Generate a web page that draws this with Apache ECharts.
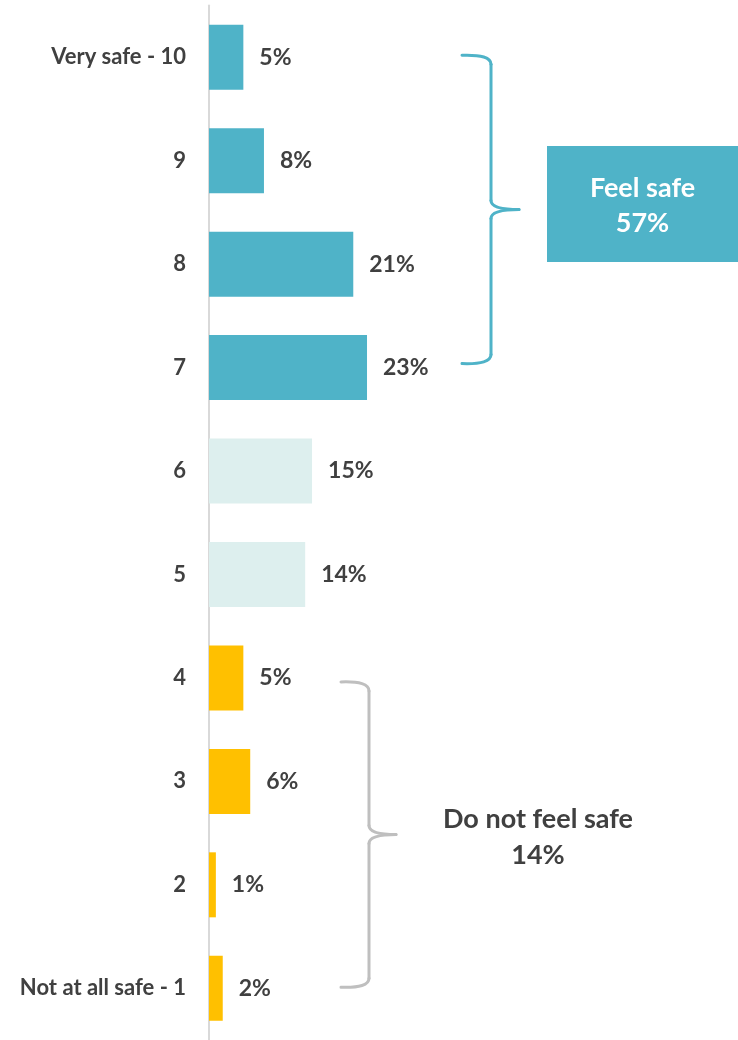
<!DOCTYPE html>
<html>
<head>
<meta charset="utf-8">
<script src="https://cdn.jsdelivr.net/npm/echarts@6/dist/echarts.min.js"></script>
<style>
  html, body { margin: 0; padding: 0; background: #ffffff; }
  #chart { width: 738px; height: 1040px; }
</style>
</head>
<body>
<div id="chart"></div>
<script>
// Safety rating, top to bottom
const categories = ['Very safe - 10', '9', '8', '7', '6', '5', '4', '3', '2', 'Not at all safe - 1'];
const shares = [5, 8, 21, 23, 15, 14, 5, 6, 1, 2];
const groups = ['safe', 'safe', 'safe', 'safe', 'neutral', 'neutral', 'unsafe', 'unsafe', 'unsafe', 'unsafe'];
const safeTotal = 57;
const unsafeTotal = 14;

const groupColors = { safe: '#4FB3C8', neutral: '#DDEFEE', unsafe: '#FFC000' };
const textColor = '#404040';
const fontFamily = 'Lato, "Open Sans", sans-serif';

const chart = echarts.init(document.getElementById('chart'), null, { renderer: 'canvas' });

chart.setOption({
  animation: false,
  backgroundColor: '#ffffff',
  grid: { left: 209, right: 0, top: 5.5, height: 1039.4, containLabel: false },
  xAxis: { type: 'value', min: 0, max: 77, show: false },
  yAxis: {
    type: 'category',
    data: categories,
    inverse: true,
    axisLine: { show: true, lineStyle: { color: '#D9D9D9', width: 2 } },
    axisTick: { show: false },
    axisLabel: {
      margin: 23,
      color: textColor,
      fontFamily: fontFamily,
      fontWeight: 'bold',
      fontSize: 22,
      padding: [3, 0, 0, 0]
    }
  },
  series: [{
    type: 'bar',
    barWidth: 65,
    data: shares.map((v, i) => ({ value: v, itemStyle: { color: groupColors[groups[i]] } })),
    label: {
      show: true,
      position: 'right',
      distance: 16,
      formatter: p => p.value + '%',
      color: textColor,
      fontFamily: fontFamily,
      fontWeight: 'bold',
      fontSize: 23,
      padding: [3, 0, 0, 0]
    }
  }]
});

// Curly brace between yTop and yBot, opening to the left with its tip pointing right
function brace(xEnd, xSpine, xTip, yTop, yBot, color) {
  const yMid = (yTop + yBot) / 2;
  const r = 9;
  const style = { stroke: color, lineWidth: 3, fill: null, lineCap: 'round' };
  const curve = (x1, y1, cx, cy, x2, y2) => ({
    type: 'bezierCurve',
    shape: { x1: x1, y1: y1, x2: x2, y2: y2, cpx1: cx, cpy1: cy },
    style: style
  });
  const seg = (x1, y1, x2, y2) => ({
    type: 'line',
    shape: { x1: x1, y1: y1, x2: x2, y2: y2 },
    style: style
  });
  return [
    curve(xEnd, yTop, xSpine, yTop - 1, xSpine, yTop + r),
    seg(xSpine, yTop + r, xSpine, yMid - r),
    curve(xSpine, yMid - r, xSpine, yMid, xTip, yMid),
    curve(xTip, yMid, xSpine, yMid, xSpine, yMid + r),
    seg(xSpine, yMid + r, xSpine, yBot - r),
    curve(xSpine, yBot - r, xSpine, yBot + 1, xEnd, yBot)
  ];
}

const yOf = c => chart.convertToPixel({ yAxisIndex: 0 }, c);
const safeTop = yOf(categories[0]) - 2;
const safeBot = yOf(categories[3]) - 4;
const unsafeTop = yOf(categories[6]) + 4;
const unsafeBot = yOf(categories[9]) - 1;

chart.setOption({
  graphic: [].concat(
    brace(462, 491, 519, safeTop, safeBot, '#4FB3C8'),
    [{
      type: 'rect',
      shape: { x: 547, y: 146, width: 191, height: 116 },
      style: { fill: '#4FB3C8' }
    },
    {
      type: 'text',
      x: 642.5, y: 206,
      style: {
        text: 'Feel safe\n' + safeTotal + '%',
        fill: '#ffffff',
        font: 'bold 27px ' + fontFamily,
        align: 'center',
        verticalAlign: 'middle',
        lineHeight: 35
      }
    }],
    brace(341, 369, 396, unsafeTop, unsafeBot, '#BFBFBF'),
    [{
      type: 'text',
      x: 538, y: 837,
      style: {
        text: 'Do not feel safe\n' + unsafeTotal + '%',
        fill: textColor,
        font: 'bold 27px ' + fontFamily,
        align: 'center',
        verticalAlign: 'middle',
        lineHeight: 36
      }
    }]
  )
});
</script>
</body>
</html>
